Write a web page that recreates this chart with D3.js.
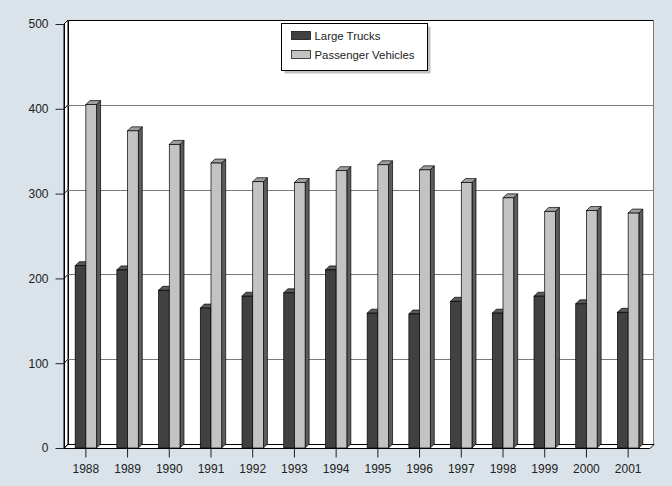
<!DOCTYPE html>
<html>
<head>
<meta charset="utf-8">
<script src="https://cdn.jsdelivr.net/npm/d3@7"></script>
<style>
  html, body { margin: 0; padding: 0; background: #dae2ea; }
  svg { display: block; font-family: "Liberation Sans", Arial, sans-serif; }
</style>
</head>
<body>
<svg id="chart" width="672" height="486"></svg>
<script>
const years = ['1988', '1989', '1990', '1991', '1992', '1993', '1994', '1995', '1996', '1997', '1998', '1999', '2000', '2001'];
const largeTrucks = [215, 210, 186, 165, 179, 183, 210, 159, 158, 173, 159, 179, 170, 160];
const passengerVehicles = [405, 374, 358, 336, 314, 313, 327, 334, 328, 313, 295, 279, 280, 277];
const seriesNames = ['Large Trucks', 'Passenger Vehicles'];
const yTicks = [0, 100, 200, 300, 400, 500];

const svg = d3.select('#chart');
const W = 672, H = 486;
const plotLeft = 64, plotRight = 649, plotTop = 24, plotBottom = 448;
const dx = 4, dy = -4; // 3D depth offset

const colors = [
  { front: '#414141', top: '#5a5a5a', side: '#2a2a2a' },
  { front: '#c3c3c3', top: '#9e9e9e', side: '#5c5c5c' },
];

const y = d3.scaleLinear().domain([0, 500]).range([plotBottom, plotTop]);
const x0 = d3.scaleBand().domain(years).range([plotLeft + 1, plotRight]).paddingInner(0.487).paddingOuter(0.2435);
const x1 = d3.scaleBand().domain(seriesNames).range([0, x0.bandwidth()]);

svg.append('rect').attr('width', W).attr('height', H).attr('fill', '#dae2ea');

// left wall
svg.append('path')
  .attr('d', `M${plotLeft},${y(500)} L${plotLeft + dx},${y(500) + dy} L${plotLeft + dx},${plotBottom + dy} L${plotLeft},${plotBottom} Z`)
  .attr('fill', '#fff').attr('stroke', '#000').attr('stroke-width', 1);

// back wall
svg.append('rect')
  .attr('x', plotLeft + dx + 0.5).attr('y', y(500) + dy + 0.5)
  .attr('width', plotRight - plotLeft).attr('height', plotBottom - y(500))
  .attr('fill', '#fff');
svg.append('path')
  .attr('d', `M${plotLeft + dx + 0.5},${plotBottom + dy} V${y(500) + dy + 0.5} H${plotRight + dx + 0.5}`)
  .attr('fill', 'none').attr('stroke', '#000');
svg.append('line')
  .attr('x1', plotRight + dx + 0.5).attr('x2', plotRight + dx + 0.5)
  .attr('y1', y(500) + dy + 0.5).attr('y2', plotBottom + dy)
  .attr('stroke', '#777');

// gridlines on back wall
svg.append('g').selectAll('line').data(yTicks.filter(d => d > 0 && d < 500)).join('line')
  .attr('x1', plotLeft + dx).attr('x2', plotRight + dx)
  .attr('y1', d => Math.round(y(d) + dy) + 0.5).attr('y2', d => Math.round(y(d) + dy) + 0.5)
  .attr('stroke', '#7a7a7a');

// little diagonals from front axis to back wall
svg.append('g').selectAll('line').data(yTicks).join('line')
  .attr('x1', plotLeft).attr('x2', plotLeft + dx)
  .attr('y1', d => y(d)).attr('y2', d => y(d) + dy)
  .attr('stroke', '#000');

// floor
svg.append('path')
  .attr('d', `M${plotLeft},${plotBottom + 0.5} L${plotLeft + dx},${plotBottom + dy + 0.5} L${plotRight + dx + 1},${plotBottom + dy + 0.5} L${plotRight + 1},${plotBottom + 0.5} Z`)
  .attr('fill', '#fff').attr('stroke', '#000');

// y axis
const yAxis = svg.append('g').attr('transform', `translate(${plotLeft + 0.5},0)`)
  .call(d3.axisLeft(y).tickValues(yTicks).tickSize(9).tickPadding(7));
yAxis.select('.domain').attr('d', `M0,${y(500)}V${plotBottom}`).attr('stroke', '#000');
yAxis.selectAll('.tick line').attr('stroke', '#222');
yAxis.selectAll('text').attr('font-size', 12).attr('fill', '#222')
  .attr('font-family', '"Liberation Sans", Arial, sans-serif');

// x axis
const xAxis = svg.append('g').attr('transform', `translate(0,${plotBottom + 0.5})`)
  .call(d3.axisBottom(x0).tickSize(9).tickPadding(7));
xAxis.select('.domain').remove();
xAxis.selectAll('.tick line').attr('stroke', '#222');
xAxis.selectAll('text').attr('font-size', 12).attr('fill', '#222')
  .attr('font-family', '"Liberation Sans", Arial, sans-serif');

// bars
const rows = years.map((yr, i) => ({ year: yr, values: [largeTrucks[i], passengerVehicles[i]] }));
const groups = svg.append('g').selectAll('g').data(rows).join('g')
  .attr('transform', d => `translate(${x0(d.year)},0)`);

seriesNames.forEach((name, s) => {
  const g = groups.append('g');
  const bx = x1(name);
  const bw = x1.bandwidth();
  const col = colors[s];
  g.append('path')
    .attr('d', d => {
      const yt = y(d.values[s]);
      return `M${bx + bw},${yt} L${bx + bw + dx},${yt + dy} L${bx + bw + dx},${plotBottom + dy} L${bx + bw},${plotBottom} Z`;
    })
    .attr('fill', col.side).attr('stroke', '#000').attr('stroke-width', 0.7);
  g.append('path')
    .attr('d', d => {
      const yt = y(d.values[s]);
      return `M${bx},${yt} L${bx + dx},${yt + dy} L${bx + bw + dx},${yt + dy} L${bx + bw},${yt} Z`;
    })
    .attr('fill', col.top).attr('stroke', '#000').attr('stroke-width', 0.7);
  g.append('rect')
    .attr('x', bx).attr('y', d => y(d.values[s]))
    .attr('width', bw).attr('height', d => plotBottom - y(d.values[s]))
    .attr('fill', col.front).attr('stroke', '#000').attr('stroke-width', 0.7);
});

// legend
const lg = svg.append('g').attr('transform', 'translate(281.5,23.5)');
lg.append('rect').attr('x', 3).attr('y', 3).attr('width', 146).attr('height', 47).attr('fill', '#9a9a9a').attr('opacity', 0.6);
lg.append('rect').attr('width', 146).attr('height', 47).attr('fill', '#fff').attr('stroke', '#000');
const items = lg.selectAll('g.item').data(seriesNames).join('g').attr('class', 'item')
  .attr('transform', (d, i) => `translate(10,${8 + i * 19})`);
items.append('rect').attr('width', 19).attr('height', 8)
  .attr('fill', (d, i) => colors[i].front).attr('stroke', '#000').attr('stroke-width', 0.7);
items.append('text').attr('x', 23).attr('y', 8.5).attr('font-size', 11.4).attr('fill', '#222')
  .text(d => d);
</script>
</body>
</html>
